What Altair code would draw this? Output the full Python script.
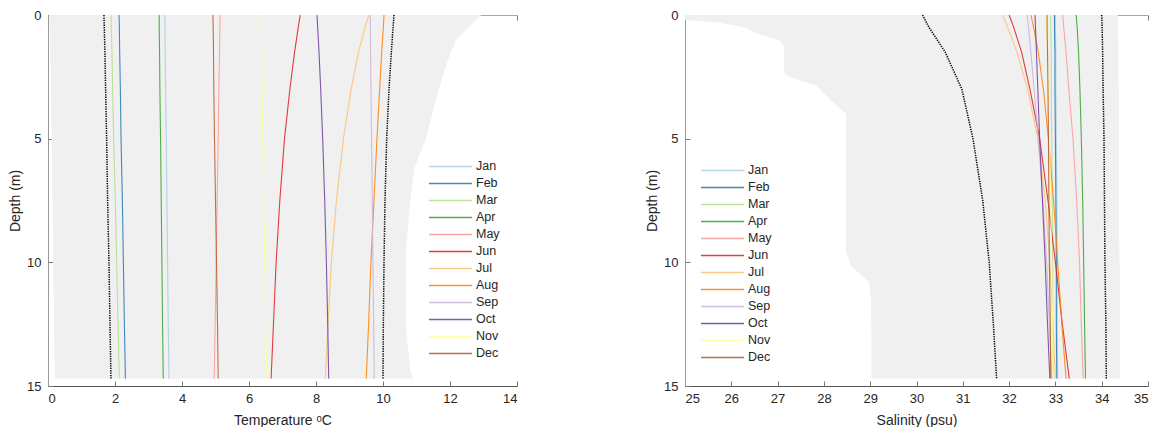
import altair as alt
import pandas as pd

MONTHS = ["Jan", "Feb", "Mar", "Apr", "May", "Jun", "Jul", "Aug", "Sep", "Oct", "Nov", "Dec"]
COLORS = ["#a6cee3", "#1f78b4", "#b2df8a", "#33a02c", "#fb9a99", "#e31a1c",
          "#fdbf6f", "#ff7f00", "#cab2d6", "#6a3d9a", "#ffff99", "#b15928"]

# depth grid (m) shared by all profiles
DEPTH = [0, 0.5, 1.5, 3, 5, 7.5, 10, 12.5, 14.7]

# temperature profiles (deg C)
T_JAN = [3.49, 3.49, 3.50, 3.51, 3.53, 3.55, 3.57, 3.59, 3.61]
T_FEB = [2.12, 2.13, 2.14, 2.16, 2.18, 2.22, 2.25, 2.28, 2.31]
T_MAR = [1.88, 1.89, 1.91, 1.93, 1.96, 2.01, 2.05, 2.09, 2.13]
T_APR = [3.32, 3.32, 3.33, 3.34, 3.36, 3.38, 3.40, 3.42, 3.44]
T_MAY = [5.14, 5.13, 5.12, 5.10, 5.08, 5.05, 5.02, 4.99, 4.96]
T_JUN = [7.53, 7.47, 7.36, 7.22, 7.06, 6.92, 6.81, 6.73, 6.66]
T_JUL = [9.58, 9.46, 9.27, 9.05, 8.82, 8.61, 8.46, 8.36, 8.28]
T_AUG = [10.03, 10.01, 9.96, 9.90, 9.82, 9.73, 9.64, 9.57, 9.50]
T_SEP = [9.62, 9.62, 9.63, 9.64, 9.66, 9.68, 9.70, 9.72, 9.74]
T_OCT = [8.03, 8.05, 8.09, 8.14, 8.20, 8.26, 8.31, 8.35, 8.38]
T_NOV = [6.36, 6.37, 6.38, 6.39, 6.41, 6.44, 6.47, 6.50, 6.53]
T_DEC = [4.92, 4.93, 4.94, 4.95, 4.97, 5.00, 5.03, 5.06, 5.08]
T_MIN = [1.67, 1.68, 1.70, 1.72, 1.75, 1.78, 1.82, 1.85, 1.88]
T_MAX = [10.33, 10.30, 10.25, 10.18, 10.11, 10.06, 10.03, 10.01, 10.00]

# salinity profiles (psu)
S_JAN = [33.00, 33.00, 33.01, 33.01, 33.02, 33.03, 33.04, 33.04, 33.05]
S_FEB = [32.98, 32.98, 32.99, 32.99, 33.00, 33.01, 33.02, 33.02, 33.03]
S_MAR = [32.90, 32.90, 32.91, 32.91, 32.92, 32.93, 32.94, 32.94, 32.95]
S_APR = [33.45, 33.47, 33.50, 33.53, 33.56, 33.59, 33.61, 33.63, 33.65]
S_MAY = [33.16, 33.18, 33.23, 33.29, 33.38, 33.46, 33.52, 33.56, 33.60]
S_JUN = [32.00, 32.10, 32.27, 32.45, 32.66, 32.84, 33.00, 33.15, 33.30]
S_JUL = [31.86, 31.97, 32.17, 32.40, 32.62, 32.78, 32.88, 32.95, 33.00]
S_AUG = [32.47, 32.53, 32.63, 32.74, 32.85, 32.96, 33.05, 33.14, 33.23]
S_SEP = [32.39, 32.42, 32.47, 32.54, 32.63, 32.73, 32.81, 32.87, 32.92]
S_OCT = [32.56, 32.57, 32.59, 32.62, 32.66, 32.72, 32.78, 32.83, 32.88]
S_NOV = [32.80, 32.81, 32.83, 32.85, 32.87, 32.90, 32.92, 32.94, 32.95]
S_DEC = [32.82, 32.82, 32.83, 32.84, 32.85, 32.86, 32.87, 32.89, 32.90]
S_MIN = [30.13, 30.27, 30.62, 30.98, 31.22, 31.43, 31.57, 31.66, 31.73]
S_MAX = [34.00, 34.01, 34.02, 34.03, 34.05, 34.06, 34.07, 34.09, 34.10]

# grey envelope, temperature panel
GT_DEPTH = [0, 0.5, 1.0, 1.8, 3.1, 5.0, 6.2, 8.0, 9.5, 12.7, 14.3, 14.7]
GT_LEFT = [0.03, 0.05, 0.06, 0.07, 0.09, 0.11, 0.12, 0.14, 0.15, 0.18, 0.20, 0.20]
GT_RIGHT = [12.93, 12.55, 12.18, 11.94, 11.64, 11.28, 10.93, 10.78, 10.69, 10.69, 10.81, 10.90]

# grey envelope, salinity panel
GS_DEPTH = [0, 0.19, 0.3, 0.5, 0.7, 1.04, 1.24, 2.32, 2.5, 2.86, 3.4, 4.0, 9.6, 10.15, 10.8, 11.5, 14.7]
GS_LEFT = [25.0, 25.0, 25.7, 26.28, 26.5, 27.05, 27.14, 27.14, 27.26, 27.84, 28.12, 28.48,
           28.48, 28.59, 28.97, 29.02, 29.03]
GS_RIGHT = [34.35, 34.35, 34.35, 34.35, 34.35, 34.36, 34.36, 34.36, 34.36, 34.37, 34.37, 34.37,
            34.38, 34.39, 34.39, 34.39, 34.40]

T_X_TICKS = [0, 2, 4, 6, 8, 10, 12, 14]
S_X_TICKS = [25, 26, 27, 28, 29, 30, 31, 32, 33, 34, 35]
Y_TICKS = [0, 5, 10, 15]

T_SERIES = [T_JAN, T_FEB, T_MAR, T_APR, T_MAY, T_JUN, T_JUL, T_AUG, T_SEP, T_OCT, T_NOV, T_DEC]
S_SERIES = [S_JAN, S_FEB, S_MAR, S_APR, S_MAY, S_JUN, S_JUL, S_AUG, S_SEP, S_OCT, S_NOV, S_DEC]

H = 371
FONT = "Liberation Sans"
TXT = "#262626"


def long_lines(series):
    rows = []
    for m, vals in zip(MONTHS, series):
        for d, v in zip(DEPTH, vals):
            rows.append({"month": m, "depth": d, "value": v})
    return pd.DataFrame(rows)


def long_env(lo, hi):
    rows = []
    for name, vals in (("min", lo), ("max", hi)):
        for d, v in zip(DEPTH, vals):
            rows.append({"series": name, "depth": d, "value": v})
    return pd.DataFrame(rows)


def panel(series, lo, hi, gd, gl, gr, xdom, xticks, xtitle, lx, ly, W):
    xs = alt.Scale(domain=xdom, nice=False, zero=False)
    ys = alt.Scale(domain=[0, 15], reverse=True, nice=False)
    gray = pd.DataFrame({"depth": gd, "left": gl, "right": gr})
    area = alt.Chart(gray).mark_area(orient="horizontal", color="#f0f0f0").encode(
        y=alt.Y("depth:Q", scale=ys,
                axis=alt.Axis(values=Y_TICKS, title="Depth (m)", tickSize=0, labelPadding=7,
                              domainColor="#9a9a9a", titlePadding=4)),
        x=alt.X("left:Q", scale=xs,
                axis=alt.Axis(values=xticks, title=xtitle, tickSize=0, labelPadding=6,
                              domainColor="#555555", titlePadding=8)),
        x2="right:Q",
    )
    lines = alt.Chart(long_lines(series)).mark_line(strokeWidth=1.1, opacity=0.85).encode(
        x=alt.X("value:Q", scale=xs,
                axis=alt.Axis(orient="top", offset=-H, values=xticks, labels=False, domain=False,
                              title=None, tickSize=5, tickColor="#777777")),
        y=alt.Y("depth:Q", scale=ys,
                axis=alt.Axis(orient="right", offset=-W, values=Y_TICKS, labels=False, domain=False,
                              title=None, tickSize=5, tickColor="#777777")),
        color=alt.Color("month:N", scale=alt.Scale(domain=MONTHS, range=COLORS),
                        legend=alt.Legend(orient="none", legendX=lx, legendY=ly, title=None,
                                          symbolType="stroke", symbolSize=1850,
                                          symbolStrokeWidth=1.5, clipHeight=16.8, rowPadding=0,
                                          labelFont=FONT, labelFontSize=12.5, labelColor=TXT,
                                          labelOffset=3, padding=0)),
        order=alt.Order("depth:Q"),
    )
    dotted = alt.Chart(long_env(lo, hi)).mark_line(color="black", strokeWidth=1.5,
                                                    strokeDash=[1.3, 1.1]).encode(
        x=alt.X("value:Q", scale=xs,
                axis=alt.Axis(orient="bottom", offset=-H, values=xticks, labels=False,
                              domainColor="#a8a8a8", title=None, tickSize=5, tickColor="#777777")),
        y=alt.Y("depth:Q", scale=ys, axis=None),
        detail="series:N",
        order=alt.Order("depth:Q"),
    )
    return alt.layer(area, lines, dotted).resolve_axis(x="independent", y="independent").properties(
        width=W, height=H)


left = panel(T_SERIES, T_MIN, T_MAX, GT_DEPTH, GT_LEFT, GT_RIGHT, [0, 14], T_X_TICKS,
             "Temperature ᵒC", 380, 143, 469)
right = panel(S_SERIES, S_MIN, S_MAX, GS_DEPTH, GS_LEFT, GS_RIGHT, [25, 35], S_X_TICKS,
              "Salinity (psu)", 15, 147, 463)

chart = alt.hconcat(left, right, spacing=127).resolve_scale(color="independent").properties(
    padding={"left": 0, "top": 1, "right": 0, "bottom": 0}
).configure_view(stroke=None).configure_axis(
    labelFont=FONT, titleFont=FONT, labelFontSize=13, titleFontSize=14, labelColor=TXT,
    titleColor=TXT, titleFontWeight="normal", grid=False
)

chart.save("out.html", embed_options={"renderer": "svg", "actions": False})
